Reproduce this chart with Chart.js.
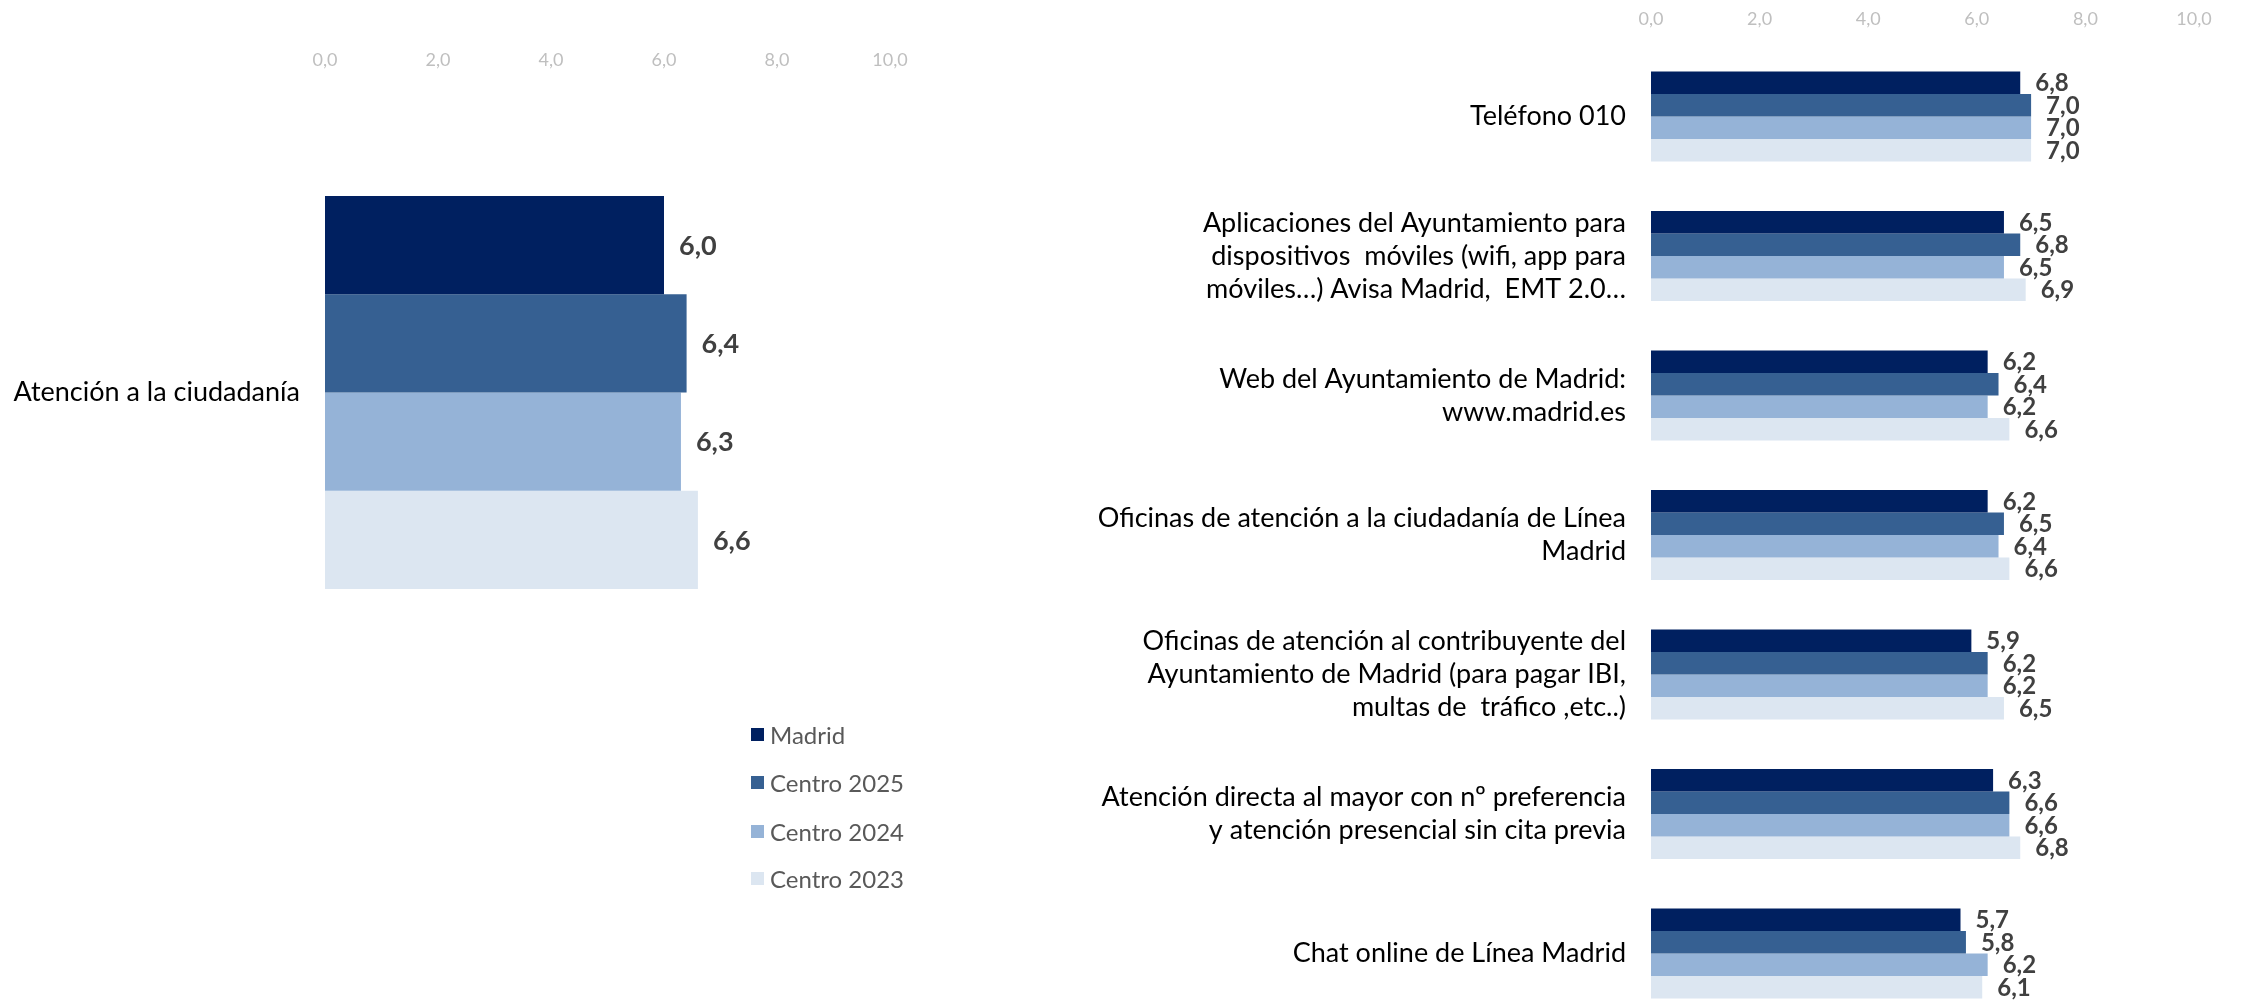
<!DOCTYPE html>
<html lang="es">
<head>
<meta charset="utf-8">
<title>Valoración atención a la ciudadanía</title>
<script src="https://cdn.jsdelivr.net/npm/chart.js@4.4.1/dist/chart.umd.min.js"></script>
<style>
  html, body { margin: 0; padding: 0; background: #fff; overflow: hidden; width: 2249px; height: 1000px; }
  #chartIzq { position: absolute; left: 0; top: 0; }
  #chartDer { position: absolute; left: 1000px; top: 0; }
  #leyenda { position: absolute; left: 751px; top: 0; font-family: Lato, sans-serif; font-size: 24px; color: #595959; }
  .ley-item { position: absolute; left: 0; display: flex; align-items: center; white-space: nowrap; height: 30px; }
  .ley-cuadro { width: 13px; height: 13px; margin-right: 6px; }
</style>
</head>
<body>
<canvas id="chartIzq" width="1000" height="1000"></canvas>
<canvas id="chartDer" width="1249" height="1040"></canvas>
<div id="leyenda"></div>

<script>
// series y colores
const series = ['Madrid', 'Centro 2025', 'Centro 2024', 'Centro 2023'];
const colores = ['#002060', '#366092', '#95b3d7', '#dce6f1'];

// eje de valores
const ticksEje = [0, 2, 4, 6, 8, 10];

// gráfico izquierdo
const catIzq = ['Atención a la ciudadanía'];
const izqMadrid = [6.0];
const izqCentro2025 = [6.4];
const izqCentro2024 = [6.3];
const izqCentro2023 = [6.6];

// gráfico derecho
const catDer = [
  'Teléfono 010',
  ['Aplicaciones del Ayuntamiento para', 'dispositivos  móviles (wifi, app para', 'móviles…) Avisa Madrid,  EMT 2.0…'],
  ['Web del Ayuntamiento de Madrid:', 'www.madrid.es'],
  ['Oficinas de atención a la ciudadanía de Línea', 'Madrid'],
  ['Oficinas de atención al contribuyente del', 'Ayuntamiento de Madrid (para pagar IBI,', 'multas de  tráfico ,etc..)'],
  ['Atención directa al mayor con nº preferencia', 'y atención presencial sin cita previa'],
  'Chat online de Línea Madrid'
];
const derMadrid     = [6.8, 6.5, 6.2, 6.2, 5.9, 6.3, 5.7];
const derCentro2025 = [7.0, 6.8, 6.4, 6.5, 6.2, 6.6, 5.8];
const derCentro2024 = [7.0, 6.5, 6.2, 6.4, 6.2, 6.6, 6.2];
const derCentro2023 = [7.0, 6.9, 6.6, 6.6, 6.5, 6.8, 6.1];

const fmt = v => v.toFixed(1).replace('.', ',');

Chart.defaults.font.family = 'Lato';

// etiquetas de valor al final de cada barra
const etiquetasValor = {
  id: 'etiquetasValor',
  afterDatasetsDraw(chart, args, opts) {
    const ctx = chart.ctx;
    ctx.save();
    ctx.font = `bold ${opts.size}px Lato`;
    ctx.fillStyle = '#404040';
    ctx.textAlign = 'left';
    ctx.textBaseline = 'middle';
    chart.data.datasets.forEach((ds, i) => {
      chart.getDatasetMeta(i).data.forEach((bar, j) => {
        ctx.fillText(fmt(ds.data[j]), bar.x + opts.offset, bar.y + 1);
      });
    });
    ctx.restore();
  }
};

function armarDatasets(valores) {
  return valores.map((data, i) => ({
    label: series[i],
    data: data,
    backgroundColor: colores[i],
    borderWidth: 0,
    barPercentage: 1
  }));
}

function opciones(cfg) {
  return {
    indexAxis: 'y',
    responsive: false,
    animation: false,
    layout: { padding: cfg.padding },
    datasets: { bar: { categoryPercentage: cfg.catPct } },
    plugins: {
      legend: { display: false },
      tooltip: { enabled: false },
      etiquetasValor: { size: cfg.valSize, offset: cfg.valOffset }
    },
    scales: {
      x: {
        position: 'top',
        min: 0, max: 10,
        afterBuildTicks: ax => { ax.ticks = ticksEje.map(v => ({ value: v })); },
        afterFit: s => { s.height = cfg.alturaEje; },
        grid: { display: false, drawTicks: false, tickLength: 0 },
        border: { display: false },
        ticks: { color: '#bfbfbf', font: { size: 18 }, padding: cfg.tickPad, callback: v => fmt(v) }
      },
      y: {
        // ancho fijo y sin reservar espacio extra arriba/abajo por las etiquetas
        afterFit: s => { s.width = cfg.anchoEje; s.paddingTop = 0; s.paddingBottom = 0; },
        grid: { display: false, drawTicks: false, tickLength: 0 },
        border: { display: false },
        ticks: { color: '#000', font: { size: 27, lineHeight: 1.22 }, padding: 25 }
      }
    }
  };
}

new Chart(document.getElementById('chartIzq'), {
  type: 'bar',
  data: { labels: catIzq, datasets: armarDatasets([izqMadrid, izqCentro2025, izqCentro2024, izqCentro2023]) },
  options: opciones({
    padding: { left: 0, right: 110, top: 0, bottom: 295 },
    catPct: 0.629, valSize: 27, valOffset: 15,
    alturaEje: 80, tickPad: 9, anchoEje: 325
  }),
  plugins: [etiquetasValor]
});

new Chart(document.getElementById('chartDer'), {
  type: 'bar',
  data: { labels: catDer, datasets: armarDatasets([derMadrid, derCentro2025, derCentro2024, derCentro2023]) },
  options: opciones({
    padding: { left: 0, right: 55, top: 0, bottom: 16.75 },
    catPct: 0.645, valSize: 24, valOffset: 15,
    alturaEje: 46.75, tickPad: 17, anchoEje: 651
  }),
  plugins: [etiquetasValor]
});

// leyenda
const leyenda = document.getElementById('leyenda');
const leyendaY = [734, 782, 831, 878];
series.forEach((nombre, i) => {
  const item = document.createElement('div');
  item.className = 'ley-item';
  item.style.top = (leyendaY[i] - 15) + 'px';
  item.innerHTML = `<span class="ley-cuadro" style="background:${colores[i]}"></span><span>${nombre}</span>`;
  leyenda.appendChild(item);
});
</script>
</body>
</html>
